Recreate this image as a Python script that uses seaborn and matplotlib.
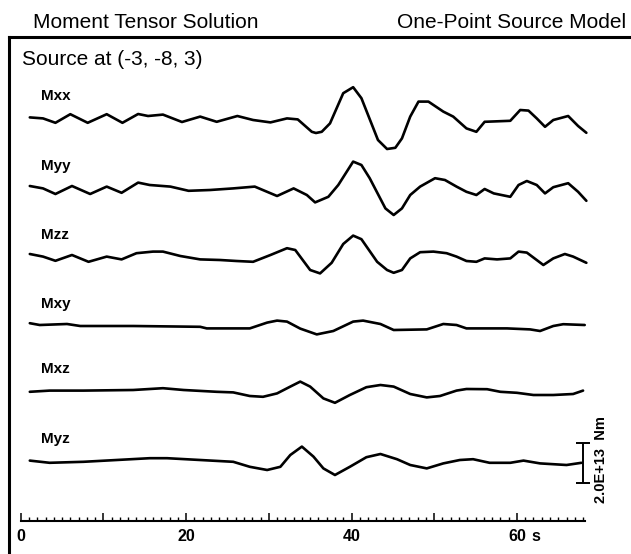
import matplotlib
matplotlib.use("Agg")
import matplotlib.pyplot as plt
import seaborn as sns
import numpy as np
import pandas as pd

# ---------------- data (time in s, amplitude in 1e13 Nm) ----------------
trace_names = ["Mxx", "Myy", "Mzz", "Mxy", "Mxz", "Myz"]

t_mxx = [1.1, 2.7, 4.2, 6.0, 8.1, 10.4, 12.3, 14.2, 15.4, 17.2, 19.5, 21.7, 23.7, 26.2, 28.1,
         30.2, 32.2, 33.5, 35.2, 35.7, 36.4, 37.4, 39.0, 40.2, 41.2, 43.2, 44.3, 45.3, 46.1, 47.1,
         48.1, 49.3, 51.1, 52.3, 53.9, 55.1, 56.1, 59.2, 60.4, 61.4, 62.4, 63.4, 64.4, 66.2, 67.4, 68.4]
a_mxx = [0.03, -0.02, -0.24, 0.19, -0.24, 0.19, -0.24, 0.20, 0.10, 0.17, -0.20, 0.07, -0.19, 0.10, -0.10,
         -0.22, -0.02, -0.07, -0.69, -0.75, -0.69, -0.27, 1.24, 1.54, 0.99, -1.10, -1.55, -1.49, -1.02, 0.07,
         0.82, 0.82, 0.32, 0.07, -0.52, -0.69, -0.19, -0.14, 0.40, 0.37, -0.02, -0.44, -0.10, 0.10, -0.40, -0.74]

t_myy = [1.1, 2.7, 4.2, 6.2, 8.4, 10.4, 12.2, 14.2, 15.6, 18.1, 20.3, 22.9, 25.7, 28.3, 31.0,
         33.0, 34.6, 35.6, 37.2, 38.4, 40.2, 41.2, 42.2, 44.1, 45.1, 46.1, 47.1, 48.3, 50.1, 51.3,
         52.7, 53.9, 55.1, 56.1, 57.2, 59.2, 60.2, 61.2, 62.4, 63.4, 64.4, 66.2, 67.4, 68.4]
a_myy = [0.10, -0.02, -0.30, 0.10, -0.30, 0.07, -0.24, 0.27, 0.15, 0.07, -0.14, -0.10, -0.02, 0.07, -0.40,
         -0.02, -0.35, -0.72, -0.44, 0.15, 1.32, 1.15, 0.49, -1.02, -1.35, -1.02, -0.35, 0.07, 0.49, 0.40,
         0.07, -0.19, -0.35, -0.05, -0.27, -0.44, 0.15, 0.35, 0.15, -0.27, 0.04, 0.24, -0.19, -0.64]

t_mzz = [1.1, 2.7, 4.2, 6.2, 8.2, 10.4, 12.2, 14.0, 16.0, 17.2, 19.3, 21.7, 24.1, 26.1, 28.1,
         30.2, 32.2, 33.2, 35.0, 36.2, 37.6, 39.0, 40.2, 41.2, 43.1, 44.3, 45.1, 46.1, 47.1, 48.3,
         49.9, 51.5, 52.7, 53.9, 55.1, 56.1, 57.6, 59.2, 60.2, 61.2, 63.2, 64.4, 65.8, 66.8, 68.4]
a_mzz = [0.15, 0.02, -0.19, 0.10, -0.24, 0.02, -0.12, 0.19, 0.27, 0.27, 0.05, -0.12, -0.15, -0.20, -0.24,
         0.10, 0.44, 0.35, -0.65, -0.82, -0.29, 0.65, 1.07, 0.89, -0.24, -0.65, -0.79, -0.65, -0.07, 0.24,
         0.27, 0.19, 0.02, -0.20, -0.24, -0.07, -0.12, -0.07, 0.27, 0.22, -0.40, -0.07, 0.15, 0.02, -0.29]

t_mxy = [1.1, 2.3, 5.6, 7.2, 13.6, 21.7, 22.5, 27.7, 29.8, 31.0, 32.2, 33.8, 35.8, 37.8, 40.2,
         41.4, 43.5, 45.1, 49.1, 51.1, 52.7, 53.9, 58.8, 61.6, 62.8, 64.4, 65.6, 68.2]
a_mxy = [0.14, 0.05, 0.10, 0.0, 0.0, -0.04, -0.12, -0.12, 0.17, 0.27, 0.22, -0.13, -0.42, -0.25, 0.22,
         0.27, 0.10, -0.20, -0.17, 0.10, 0.05, -0.12, -0.12, -0.17, -0.25, 0.0, 0.09, 0.05]

t_mxz = [1.1, 3.5, 7.6, 13.6, 17.2, 19.7, 23.7, 25.7, 27.7, 29.3, 31.0, 32.6, 33.8, 35.0, 36.6,
         38.0, 39.8, 41.8, 43.5, 45.1, 47.1, 49.1, 50.7, 52.7, 53.9, 56.4, 58.0, 60.0, 62.0, 64.4, 66.8, 68.0]
a_mxz = [-0.04, 0.02, 0.02, 0.05, 0.14, 0.05, -0.04, -0.07, -0.25, -0.29, -0.12, 0.22, 0.47, 0.22, -0.37,
         -0.59, -0.20, 0.19, 0.30, 0.22, -0.15, -0.32, -0.25, 0.02, 0.10, 0.09, -0.04, -0.09, -0.20, -0.20, -0.15, 0.02]

t_myz = [1.1, 3.5, 7.6, 11.6, 15.6, 17.7, 21.7, 25.7, 27.7, 29.8, 31.4, 32.6, 34.0, 35.4, 36.6,
         38.0, 39.8, 41.8, 43.5, 45.5, 47.1, 49.1, 51.1, 53.1, 54.7, 56.7, 59.2, 60.8, 62.8, 66.0, 67.8]
a_myz = [0.02, -0.09, -0.04, 0.05, 0.14, 0.14, 0.05, -0.04, -0.29, -0.45, -0.29, 0.30, 0.72, 0.22, -0.37,
         -0.70, -0.29, 0.19, 0.35, 0.09, -0.20, -0.37, -0.12, 0.05, 0.09, -0.09, -0.09, 0.02, -0.12, -0.20, -0.09]

x_major_ticks = [0, 10, 20, 30, 40, 50, 60]
x_tick_labels = ["0", "", "20", "", "40", "", "60"]
scale_value = 2.0            # 2.0E+13 Nm
scale_label = "2.0E+13  Nm"
title_left = "Moment Tensor Solution"
title_right = "One-Point Source Model"
source_label = "Source at (-3, -8, 3)"

# ---------------- layout ----------------
W, H = 631, 554
PX_PER_S = 8.27
T0_PX = 20.7
PX_PER_UNIT = 20.0
offsets = [21.8, 18.3, 14.85, 11.4, 8.15, 4.65]

sns.set_theme(style="white")
plt.rcParams["font.family"] = ["Liberation Sans", "DejaVu Sans"]
plt.rcParams["text.color"] = "black"
plt.rcParams["xtick.color"] = "black"
plt.rcParams["xtick.labelcolor"] = "black"

fig = plt.figure(figsize=(W / 100, H / 100), dpi=100)

# frame (left + top border)
fr = fig.add_axes([8.5 / W, -0.05, 1.0, (H - 36.5) / H + 0.05])
fr.set_xticks([]); fr.set_yticks([])
fr.patch.set_alpha(0)
for side in ["right", "bottom"]:
    fr.spines[side].set_visible(False)
for side in ["left", "top"]:
    fr.spines[side].set_color("black")
    fr.spines[side].set_linewidth(2.2)

ax = fig.add_axes([0, 0, 1, 1])
ax.patch.set_alpha(0)

series_t = [t_mxx, t_myy, t_mzz, t_mxy, t_mxz, t_myz]
series_a = [a_mxx, a_myy, a_mzz, a_mxy, a_mxz, a_myz]

for name, t, a, off in zip(trace_names, series_t, series_a, offsets):
    df = pd.DataFrame({"t": t, "y": np.asarray(a) + off})
    sns.lineplot(data=df, x="t", y="y", ax=ax, color="black", lw=1.9,
                 estimator=None, sort=False, solid_joinstyle="round", solid_capstyle="round")
    ax.text(2.4, off + 0.88, name, fontsize=11, fontweight="bold", color="black",
            ha="left", va="baseline")

ax.text(0.12, 24.45, source_label, fontsize=15, color="black", ha="left", va="baseline")
fig.text(33 / W, 1 - 28.3 / H, title_left, fontsize=15, color="black", ha="left", va="baseline")
fig.text(626 / W, 1 - 28.3 / H, title_right, fontsize=15, color="black", ha="right", va="baseline")

# scale bar
scale_t = (583 - T0_PX) / PX_PER_S
scale_c = (H - 463) / PX_PER_UNIT
ax.errorbar([scale_t], [scale_c], yerr=[scale_value / 2], fmt="none", ecolor="black",
            elinewidth=1.4, capsize=5, capthick=1.4)
ax.text((601 - T0_PX) / PX_PER_S, (H - 460) / PX_PER_UNIT, scale_label, rotation=90,
        fontsize=10.5, fontweight="bold", color="black", ha="center", va="center")

ax.set_xlim(-T0_PX / PX_PER_S, (W - T0_PX) / PX_PER_S)
ax.set_ylim(0, H / PX_PER_UNIT)
ax.set_xlabel(""); ax.set_ylabel("")
ax.set_yticks([])

# time ruler
for side in ["top", "right", "left"]:
    ax.spines[side].set_visible(False)
ax.spines["bottom"].set_position(("data", (H - 520.7) / PX_PER_UNIT))
ax.spines["bottom"].set_bounds(0, 68.2)
ax.spines["bottom"].set_color("black")
ax.spines["bottom"].set_linewidth(1.5)
ax.set_xticks(x_major_ticks)
ax.set_xticklabels(x_tick_labels, fontweight="bold", fontsize=11.5, color="black")
ax.set_xticks(np.arange(0, 69, 1), minor=True)
ax.tick_params(axis="x", which="both", bottom=True, direction="in", color="black")
ax.tick_params(axis="x", which="major", length=5.8, width=1.1, pad=6)
ax.tick_params(axis="x", which="minor", length=2.9, width=1.0)
ax.text(61.7, (H - 529.3) / PX_PER_UNIT, "s", fontsize=11.5, fontweight="bold", color="black",
        ha="left", va="top")

fig.savefig("out.png", dpi=100)
